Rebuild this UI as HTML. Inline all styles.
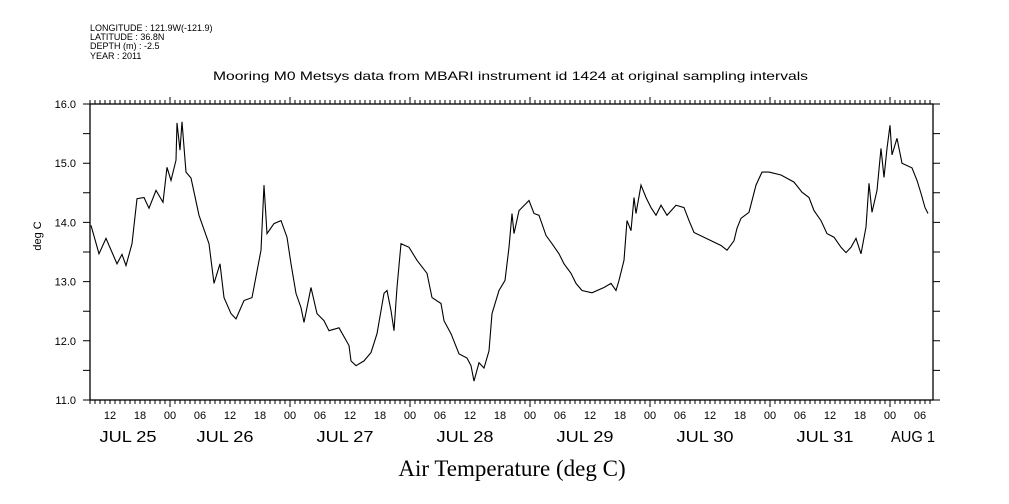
<!DOCTYPE html>
<html><head><meta charset="utf-8"><style>
html,body{margin:0;padding:0;background:#fff;width:1009px;height:504px;overflow:hidden}
svg text{font-family:"Liberation Sans",sans-serif;fill:#000}
</style></head><body>
<svg id="chart" width="1009" height="504" viewBox="0 0 1009 504" xmlns="http://www.w3.org/2000/svg">
<g font-size="9">
<text x="90" y="31">LONGITUDE : 121.9W(-121.9)</text>
<text x="90" y="40">LATITUDE : 36.8N</text>
<text x="90" y="49">DEPTH (m) : -2.5</text>
<text x="90" y="59">YEAR : 2011</text>
</g>
<text x="213" y="80" font-size="12" textLength="595" lengthAdjust="spacingAndGlyphs">Mooring M0 Metsys data from MBARI instrument id 1424 at original sampling intervals</text>
<text x="0" y="0" font-size="11" transform="translate(41,236) rotate(-90)" text-anchor="middle">deg C</text>
<text x="512" y="476" font-size="23" text-anchor="middle" style="font-family:'Liberation Serif',serif">Air Temperature (deg C)</text>
<g id="axes"></g>
<g id="series"></g>
</svg>
<script>
const hours=[8.2,9.8,11.2,13.4,14.4,15.2,16.4,17.4,18.8,19.8,21.2,22.6,23.4,24.2,25.2,25.4,26,26.4,27.2,28.2,29.8,31.8,32.8,34,34.8,36.2,37.2,38.8,40.4,42.2,42.8,43.4,44.8,46.2,47.4,48.2,49.2,50.2,50.8,52.2,53.4,54.8,55.8,57.8,59.8,60.2,61.2,62.8,64.2,65.4,66.8,67.4,68.2,68.8,69.4,70.2,71.8,73.4,75.4,76.4,78.2,78.8,80.2,81.8,83.4,84.2,84.8,85.8,86.8,87.8,88.4,89.8,91,91.8,92.4,92.8,93.8,95.8,96.8,97.8,99.2,100.4,101.8,102.8,104.2,105.2,106.4,108.4,110.8,112.2,113.2,113.8,114.8,115.4,116.2,116.8,117.2,118.2,119.2,120.2,121.2,122.2,123.4,125.2,126.8,127.8,128.8,134.2,135.4,136.8,137.4,138.2,139.8,141.2,142.4,143.8,146.2,148.8,150.4,151.8,152.8,154.2,155.4,156.8,158.2,159.2,160.2,161.2,162.2,163.2,163.8,164.4,165.4,166.2,166.8,167.4,168,168.4,169.4,170.4,172.4,173.4,174.2,175,175.6];
const temps=[13.95,13.47,13.73,13.3,13.46,13.27,13.64,14.4,14.42,14.24,14.54,14.34,14.93,14.71,15.05,15.68,15.22,15.7,14.85,14.75,14.12,13.64,12.97,13.3,12.73,12.46,12.37,12.68,12.73,13.53,14.63,13.81,13.98,14.03,13.75,13.3,12.8,12.56,12.31,12.9,12.46,12.34,12.17,12.22,11.92,11.66,11.58,11.66,11.8,12.12,12.8,12.85,12.51,12.17,12.9,13.64,13.58,13.36,13.14,12.73,12.63,12.34,12.12,11.78,11.71,11.58,11.32,11.63,11.54,11.83,12.46,12.85,13.02,13.58,14.15,13.81,14.2,14.37,14.15,14.12,13.78,13.64,13.47,13.3,13.14,12.97,12.85,12.81,12.9,12.97,12.85,13.02,13.36,14.03,13.86,14.42,14.15,14.63,14.42,14.25,14.12,14.29,14.12,14.29,14.25,14.03,13.83,13.61,13.53,13.69,13.9,14.07,14.17,14.63,14.85,14.85,14.8,14.68,14.51,14.42,14.2,14.03,13.81,13.75,13.58,13.49,13.58,13.73,13.47,13.92,14.66,14.17,14.54,15.25,14.76,15.25,15.64,15.14,15.42,15.0,14.92,14.71,14.49,14.25,14.15];
const yTicks=[11,12,13,14,15,16];
const hourTickLabels=["12","18","00","06"];
const dayLabels=["JUL 25","JUL 26","JUL 27","JUL 28","JUL 29","JUL 30","JUL 31","AUG 1"];
const NS="http://www.w3.org/2000/svg";
const L=90,R=933,T=104,B=400,H0=8,H1=176.6,V0=11,V1=16;
function xs(h){return L+(h-H0)*(R-L)/(H1-H0);}
function ys(v){return B-(v-V0)*(B-T)/(V1-V0);}
function mk(tag,attrs,parent){const e=document.createElementNS(NS,tag);for(const k in attrs)e.setAttribute(k,attrs[k]);parent.appendChild(e);return e;}
const ax=document.getElementById('axes');
const frame=mk('rect',{x:L,y:T,width:R-L,height:B-T,fill:'none',stroke:'#000','stroke-width':1.3},ax);


let d='';
for(let h=Math.ceil(H0);h<=H1;h++){const x=xs(h).toFixed(1);const len=(h%24===0)?7:4;d+=`M${x},${T}v${-len}M${x},${B}v${len}`;}
for(let v=V0;v<=V1+0.001;v+=0.5){const y=ys(v).toFixed(1);d+=`M${L},${y}h-7M${R},${y}h7`;}
const tk=mk('path',{d:d,stroke:'#000','stroke-width':1,fill:'none'},ax);


yTicks.forEach(v=>{const t=mk('text',{x:76,y:ys(v)+4,'font-size':11,'text-anchor':'end'},ax);t.textContent=v.toFixed(1);

});
for(let h=12;h<=H1;h+=6){const t=mk('text',{x:xs(h),y:419,'font-size':11,'text-anchor':'middle'},ax);t.textContent=hourTickLabels[(h/6-2)%4];

}
dayLabels.forEach((s,i)=>{let cx=xs(i*24+12)-5;if(i===0)cx=128;if(i===7)cx=913;const w=(i===7)?44:57;const t=mk('text',{x:cx-w/2,y:442,'font-size':16,textLength:w,lengthAdjust:'spacingAndGlyphs'},ax);t.textContent=s;

});
const pts=hours.map((h,i)=>xs(h).toFixed(1)+','+ys(temps[i]).toFixed(1)).join(' ');
const line=mk('polyline',{points:pts,fill:'none',stroke:'#000','stroke-width':1.1},document.getElementById('series'));


</script>
</body></html>
